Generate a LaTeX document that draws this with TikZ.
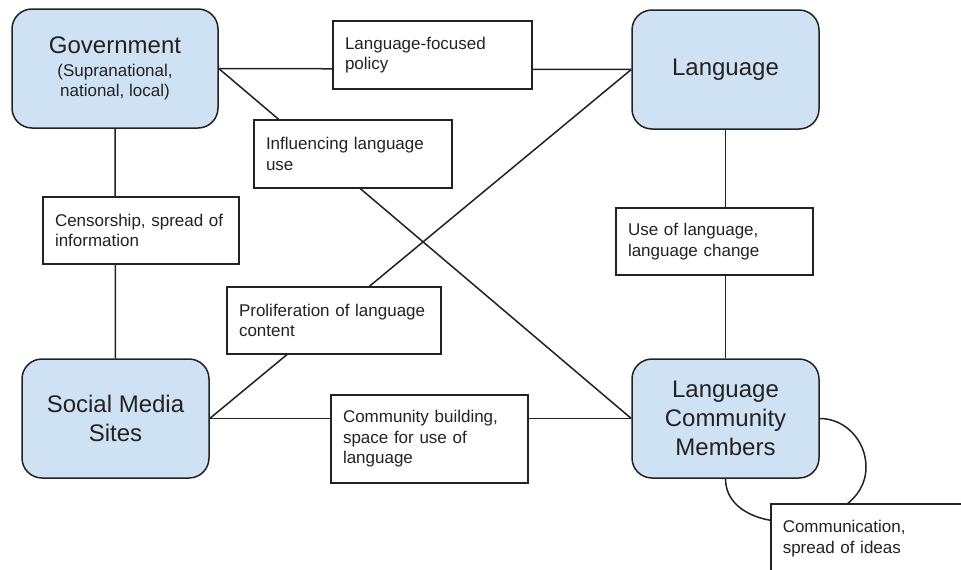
\documentclass[tikz,border=0pt]{standalone}
\usepackage{fontspec}
\setmainfont{Liberation Sans}
\usetikzlibrary{backgrounds}
\definecolor{boxblue}{HTML}{CFE2F3}
\definecolor{ink}{HTML}{222222}
\newcommand{\subfnt}{\fontsize{17}{20}\selectfont}
\begin{document}
\begin{tikzpicture}[x=1pt,y=-1pt,
  mainbox/.style={draw=ink, fill=boxblue, rounded corners=20pt, line width=1.5pt,
    align=center, inner sep=0pt, text=ink,
    font=\fontsize{24}{29}\selectfont},
  lblbox/.style={draw=ink, fill=white, line width=1.5pt, align=left,
    inner xsep=12pt, inner ysep=0pt, text=ink,
    font=\fontsize{17}{20.5}\selectfont},
  conn/.style={draw=ink, line width=1.5pt}]
\useasboundingbox (0,0) rectangle (961,570);
\clip (0,0) rectangle (961,570);
% main nodes
\node[mainbox, minimum width=206pt, minimum height=119pt] (gov) at (115,68.5)
  {Government\\[-6pt]{\subfnt(Supranational,}\\[-9pt]{\subfnt national, local)}};
\node[mainbox, minimum width=187pt, minimum height=119pt] (lang) at (725.5,69.5) {Language};
\node[mainbox, minimum width=187pt, minimum height=119pt] (sms) at (115.5,418.5) {Social Media\\Sites};
\node[mainbox, minimum width=187pt, minimum height=119pt] (lcm) at (725.5,418.5) {Language\\Community\\Members};
% label nodes
\node[lblbox, text width=175pt, minimum height=68pt] (lfp) at (432.5,55) {Language-focused\\policy};
\node[lblbox, text width=174pt, minimum height=68pt] (ilu) at (353,154) {Influencing language\\use};
\node[lblbox, text width=172pt, minimum height=67pt] (cen) at (141,230.5) {Censorship, spread of\\information};
\node[lblbox, text width=173pt, minimum height=67pt] (uol) at (714.5,241.5) {Use of language,\\language change};
\node[lblbox, text width=190pt, minimum height=67pt] (pro) at (334,320.5) {Proliferation of language\\content};
\node[lblbox, text width=173pt, minimum height=88pt] (cbs) at (429.5,439) {Community building,\\space for use of\\language};
\node[lblbox, text width=176pt, minimum height=70pt, anchor=north west] (com) at (770,503) {Communication,\\spread of ideas};
\coordinate (loopmid) at (866,467);
% connectors
\begin{scope}[on background layer]
\fill[white] (0,0) rectangle (961,570);
\draw[conn] (gov.east) -- (lang.west);
\draw[conn] (gov.east) -- (lcm.west);
\draw[conn] (lang.west) -- (sms.east);
\draw[conn] (gov.south) -- (sms.north);
\draw[conn] (lang.south) -- (lcm.north);
\draw[conn] (sms.east) -- (lcm.west);
\draw[conn] (lcm.east) .. controls +(26,0) and +(0,-26) .. (loopmid)
  .. controls +(0,68) and +(0,62) .. (lcm.south);
\end{scope}
\end{tikzpicture}
\end{document}
